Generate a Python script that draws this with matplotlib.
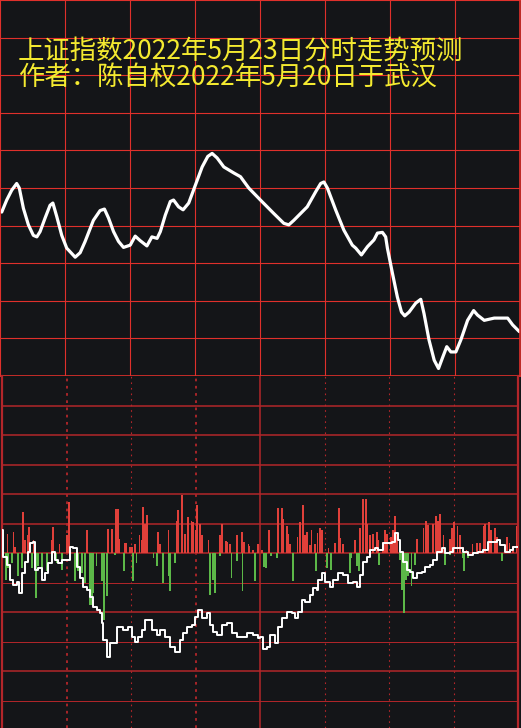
import matplotlib
matplotlib.use("Agg")
import matplotlib.pyplot as plt

# 预测分时曲线 (分钟, 点位)
pred_min = [0.8, 3.1, 5.4, 7.7, 8.9, 10.8, 13.1, 15.4, 17.0, 18.5, 20.8, 23.1, 24.4, 26.2,
            28.5, 30.8, 34.7, 37.0, 39.3, 43.1, 46.2, 48.2, 50.1, 52.4, 54.7, 57.0, 60.1,
            62.4, 64.7, 67.8, 70.1, 72.5, 74.0, 76.3, 78.6, 80.1, 82.4, 84.5, 87.1, 90.2,
            93.3, 95.9, 97.9, 100.2, 103.3, 107.9, 111.0, 114.8, 120.2, 126.4, 131.0, 133.3,
            135.6, 141.8, 145.7, 148.0, 149.5, 151.1, 154.9, 158.7, 162.6, 164.2, 166.8,
            169.6, 172.6, 174.2, 176.5, 178.0, 178.8, 181.1, 183.4, 185.3, 186.8, 188.8,
            191.9, 194.2, 195.7, 198.0, 200.4, 202.4, 204.2, 206.2, 208.1, 210.4, 212.7,
            215.8, 218.6, 220.4, 223.5, 228.1, 234.3, 236.6, 239.7]
pred_val = [3151.8, 3153.4, 3154.7, 3155.6, 3155.0, 3152.3, 3150.1, 3148.7, 3148.5, 3149.2,
            3151.0, 3152.7, 3153.0, 3151.2, 3148.7, 3147.0, 3145.8, 3146.4, 3147.9, 3150.7,
            3152.0, 3152.2, 3151.0, 3149.2, 3147.9, 3147.1, 3147.4, 3148.6, 3148.0, 3147.3,
            3148.5, 3148.3, 3149.2, 3151.4, 3153.2, 3153.4, 3152.5, 3152.1, 3153.0, 3155.4,
            3157.8, 3159.2, 3159.6, 3159.0, 3157.8, 3157.0, 3156.5, 3155.0, 3153.4, 3151.6,
            3150.3, 3150.1, 3150.7, 3152.5, 3154.5, 3155.6, 3155.8, 3155.0, 3152.1, 3149.4,
            3147.4, 3147.0, 3146.1, 3147.2, 3148.1, 3149.0, 3149.1, 3148.5, 3147.0, 3143.7,
            3140.5, 3138.5, 3138.0, 3138.5, 3139.7, 3140.2, 3138.3, 3134.8, 3132.1, 3131.0,
            3132.4, 3133.9, 3133.2, 3133.2, 3134.8, 3137.4, 3138.7, 3138.1, 3137.4, 3137.7,
            3137.7, 3136.8, 3135.9]

# 下方截图: 白线与红绿柱 (单位 = 一格)
flow_min = [0, 0.5, 2.3, 3.7, 5.1, 7.0, 7.9, 9.3, 10.7, 12.1, 13.0, 14.4, 15.3, 16.7, 18.6,
            20.0, 21.4, 23.3, 24.7, 26.0, 27.9, 30.2, 31.6, 33.0, 34.9, 36.3, 37.7, 39.5,
            40.9, 42.3, 44.2, 45.6, 46.5, 47.0, 48.8, 50.2, 51.6, 53.5, 54.9, 56.3, 58.6,
            60.5, 61.9, 63.3, 65.1, 66.5, 67.9, 69.8, 72.1, 73.5, 75.8, 78.1, 80.5, 82.8,
            84.2, 86.0, 88.4, 89.8, 91.2, 93.0, 95.3, 96.7, 98.1, 100.0, 102.3, 104.7, 107.0,
            109.3, 111.6, 113.9, 116.7, 119.1, 120.0, 121.4, 123.3, 124.7, 127.0, 128.4,
            130.2, 132.6, 134.9, 136.3, 137.7, 139.5, 140.9, 143.3, 144.7, 146.5, 147.0,
            148.8, 150.2, 152.6, 153.9, 156.3, 158.6, 160.9, 163.3, 165.1, 166.5, 167.9,
            169.8, 171.2, 173.5, 174.9, 177.2, 179.5, 181.4, 182.8, 184.2, 185.1, 186.5,
            188.4, 189.8, 191.2, 193.0, 195.4, 196.7, 199.1, 200.5, 202.3, 204.7, 206.0,
            208.4, 209.8, 212.1, 214.4, 216.7, 219.1, 221.4, 223.7, 226.0, 228.4, 230.2,
            231.6, 233.9, 236.3, 237.7, 240.0]
flow_val = [0.78, -0.14, -0.41, -0.92, -1.08, -0.98, -1.36, -0.68, -0.31, 0.03, 0.34, 0.37,
            -0.58, -0.51, -0.92, -0.68, -0.34, 0.03, -0.24, -0.34, -0.24, -0.24, 0.20, 0.17,
            -0.47, -0.85, -1.15, -1.25, -1.49, -1.83, -1.93, -2.03, -2.37, -2.95, -3.53,
            -3.05, -3.05, -2.51, -2.51, -2.61, -2.51, -2.85, -3.02, -2.85, -2.61, -2.27,
            -2.27, -2.61, -2.78, -2.61, -2.85, -3.19, -3.36, -2.95, -2.71, -2.51, -2.44,
            -2.17, -1.93, -2.20, -2.03, -2.44, -2.68, -2.78, -2.44, -2.37, -2.71, -2.85,
            -2.85, -2.71, -2.78, -2.88, -2.85, -3.25, -3.19, -2.78, -3.05, -2.51, -2.20,
            -2.00, -2.03, -2.20, -2.00, -1.59, -1.66, -1.42, -1.19, -1.25, -0.92, -0.68,
            -0.98, -1.15, -0.92, -0.68, -0.75, -1.02, -0.98, -1.15, -0.75, -0.31, -0.14,
            0.10, 0.17, 0.10, 0.34, 0.34, 0.37, 0.68, 0.44, 0.03, -0.31, -0.58, -0.64,
            -0.85, -0.68, -0.64, -0.47, -0.41, -0.24, 0.03, 0.17, 0.00, 0.03, 0.17, 0.17,
            0.03, -0.07, 0.00, 0.03, 0.10, 0.37, 0.37, 0.44, 0.27, 0.03, 0.10, 0.20, 0.20]

red_min = [0.6, 2.5, 5.3, 6.0, 9.9, 10.7, 11.8, 12.7, 14.6, 23.1, 23.6, 26.7, 30.1, 31.3,
           31.9, 39.7, 49.4, 51.0, 52.9, 54.1, 54.6, 57.2, 57.7, 59.5, 60.3, 61.9, 63.9,
           65.0, 65.7, 66.5, 67.3, 72.7, 73.5, 77.4, 81.2, 82.0, 83.6, 85.1, 86.4, 88.2,
           89.0, 90.2, 90.8, 92.1, 92.9, 93.3, 96.0, 101.4, 102.2, 104.2, 104.8, 106.0,
           109.4, 111.5, 112.6, 114.6, 115.0, 116.9, 119.2, 120.8, 124.3, 128.5, 130.1,
           130.8, 132.4, 133.2, 134.0, 137.5, 138.6, 140.1, 140.9, 141.7, 143.3, 144.0,
           145.6, 146.7, 147.9, 148.7, 151.8, 154.9, 156.7, 157.2, 158.7, 164.2, 166.5,
           167.8, 169.3, 169.6, 171.2, 172.7, 174.3, 175.0, 177.3, 178.1, 179.2, 180.8,
           182.0, 182.8, 183.6, 192.9, 196.0, 197.2, 198.3, 200.6, 201.9, 202.9, 203.7,
           205.3, 208.4, 209.2, 210.2, 211.8, 213.0, 214.6, 216.1, 218.9, 220.8, 222.3,
           223.9, 224.6, 226.6, 227.3, 229.3, 230.1, 235.0, 236.0, 237.8, 239.5]
red_val = [0.43, 0.66, 0.71, 0.20, 1.39, 0.43, 0.60, 0.88, 0.43, 0.43, 0.88, 0.32, 0.60,
           1.73, 0.20, 0.77, 0.82, 0.82, 1.50, 1.50, 0.49, 0.34, 0.34, 0.20, 0.20, 0.32,
           0.60, 0.43, 1.56, 0.99, 1.28, 0.71, 0.32, 0.77, 1.07, 1.45, 1.95, 0.66, 1.22,
           1.08, 1.05, 0.77, 1.62, 0.99, 0.60, 0.26, 0.43, 0.60, 0.99, 0.41, 0.37, 0.32,
           0.60, 0.71, 0.37, 0.32, 0.23, 0.11, 0.32, 0.11, 0.79, 1.54, 1.54, 1.16, 0.90,
           0.66, 0.32, 0.56, 1.04, 1.62, 0.60, 0.71, 0.26, 0.79, 0.32, 0.68, 0.86, 0.77,
           0.18, 0.34, 1.54, 0.52, 0.29, 0.43, 0.86, 1.84, 1.84, 0.99, 0.60, 0.66, 0.71,
           0.43, 0.37, 0.79, 0.66, 0.54, 0.77, 1.24, 0.66, 0.49, 0.86, 1.07, 0.94, 0.99,
           1.24, 1.07, 1.33, 0.60, 0.49, 0.86, 1.05, 0.90, 0.60, 0.20, 0.11, 0.29, 0.34,
           0.34, 0.90, 0.99, 1.05, 0.79, 0.86, 0.56, 0.56, 0.34, 0.23, 0.90]

green_min = [1.9, 2.9, 4.5, 7.6, 9.2, 12.2, 13.8, 15.8, 16.9, 18.5, 20.8, 23.1, 25.4, 27.8,
             34.0, 35.5, 37.1, 38.6, 40.9, 41.7, 42.5, 44.0, 46.4, 47.4, 48.7, 52.6, 56.9,
             60.8, 62.6, 70.4, 72.2, 75.0, 77.4, 78.1, 80.5, 96.7, 98.3, 99.1, 101.4, 106.8,
             109.2, 111.9, 117.7, 121.9, 122.8, 125.0, 127.8, 135.5, 146.0, 151.0, 152.9,
             161.9, 162.6, 165.0, 166.2, 175.5, 185.1, 185.9, 187.0, 187.4, 188.2, 189.0,
             190.5, 192.1, 206.0, 208.4, 214.3, 214.9, 216.9, 232.4]
green_val = [-0.90, -0.51, -0.34, -0.79, -0.51, -0.28, -0.51, -1.53, -0.45, -0.68, -0.62,
             -0.28, -0.34, -0.56, -0.96, -0.62, -0.68, -1.02, -1.75, -1.75, -1.36, -0.45,
             -0.96, -2.26, -1.47, -0.06, -0.62, -0.96, -0.34, -0.17, -0.45, -1.02, -0.79,
             -1.30, -0.34, -1.41, -0.90, -1.36, -0.11, -0.85, -0.28, -1.30, -0.96, -0.47,
             -0.51, -0.11, -0.17, -0.96, -0.62, -0.51, -0.59, -0.68, -0.17, -0.45, -0.62,
             -0.40, -0.23, -1.24, -2.03, -0.90, -0.90, -0.79, -1.13, -0.40, -0.40, -0.06,
             -0.17, -0.62, -0.17, -0.28]

title_lines = ["上证指数2022年5月23日分时走势预测", "作者：陈自权2022年5月20日于武汉"]

BG = "#141518"
GRID_TOP = "#e0302b"
GRID_BOT = "#b3262a"
W, H = 521, 728

fig = plt.figure(figsize=(W / 100, H / 100), dpi=100, facecolor=BG)

# 上半部分: 预测曲线
ax = fig.add_axes([0, 1 - 376 / H, 520 / W, 376 / H], facecolor=BG)
ax.set_xlim(0, 240)
ax.set_ylim(3130, 3180)
ax.set_xticks(range(0, 241, 30))
ax.set_yticks(range(3130, 3181, 5))
ax.grid(True, color=GRID_TOP, linewidth=0.8)
ax.tick_params(length=0, labelbottom=False, labelleft=False)
for s in ax.spines.values():
    s.set_color(GRID_TOP)
    s.set_linewidth(1.2)
ax.plot(pred_min, pred_val, color="white", linewidth=2.3,
        solid_joinstyle="round", solid_capstyle="round")

# 下半部分: 分时截图
bx = fig.add_axes([2 / W, 0, 516 / W, 352 / H], facecolor=BG)
bx.set_xlim(0, 240)
bx.set_ylim(-5.93, 6.0)
bx.set_xticks([])
bx.set_yticks([])
for name, s in bx.spines.items():
    s.set_color(GRID_BOT)
    s.set_linewidth(1.6)
bx.spines["top"].set_visible(False)
bx.spines["bottom"].set_visible(False)

for lvl in [5, 4, 3, 2, 1, 0, -2, -4]:
    bx.axhline(lvl, color=GRID_BOT, linewidth=1.1, zorder=1)
for lvl in [-1, -3, -5]:
    bx.axhline(lvl, color=GRID_BOT, linewidth=0.7, zorder=1)
bx.axvline(120, color=GRID_BOT, linewidth=1.1, zorder=1)
for xv in [30, 90]:
    bx.axvline(xv, color=GRID_BOT, linewidth=1.3, linestyle=(0, (1.5, 2.5)), zorder=1)
for xv in [60, 150, 180, 210]:
    bx.axvline(xv, color=GRID_BOT, linewidth=0.8, linestyle=(0, (1.5, 3.5)), zorder=1)

bx.bar(red_min, red_val, width=0.8, color="#e0403a", linewidth=0, zorder=2)
bx.bar(green_min, green_val, width=0.8, color="#5cb848", linewidth=0, zorder=2)
bx.plot(flow_min, flow_val, drawstyle="steps-post", color="white", linewidth=1.4, zorder=3)

# 标题两行放在一个文本里
fig.text(18 / W, 1 - 38 / H, "\n".join(title_lines), color="#f4ea30", fontsize=19,
         family=["Noto Sans CJK SC", "DejaVu Sans"], va="top", ha="left", linespacing=0.92)

fig.savefig("out.png", dpi=100, facecolor=BG)
